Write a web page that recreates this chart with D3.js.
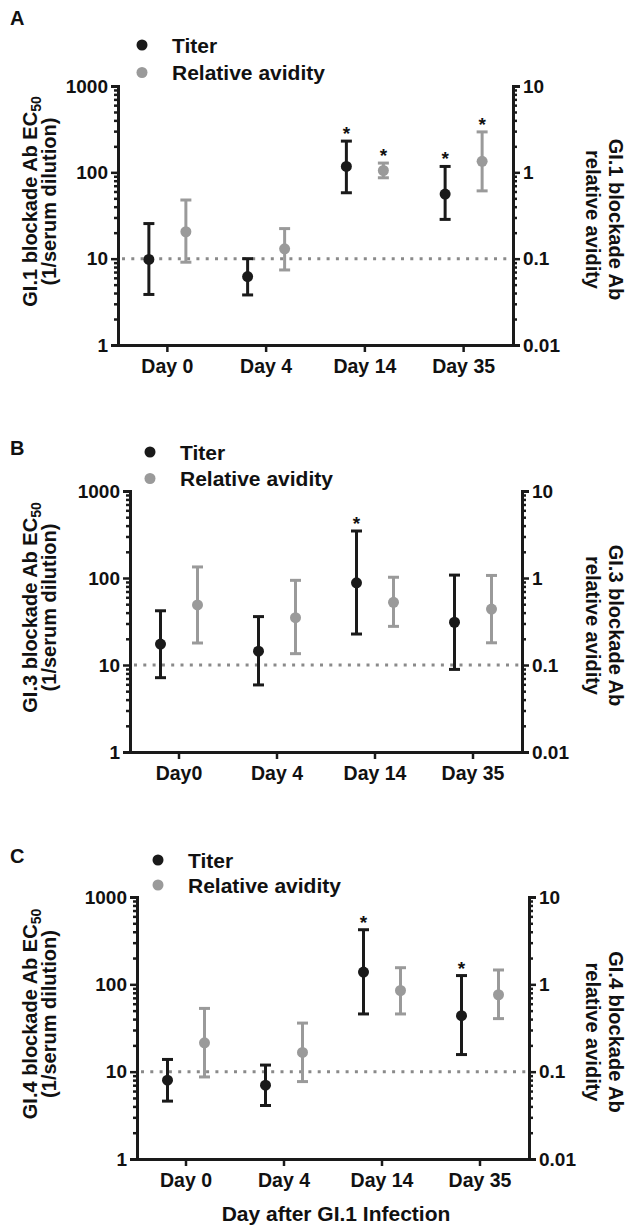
<!DOCTYPE html>
<html>
<head>
<meta charset="utf-8">
<script src="https://cdn.jsdelivr.net/npm/d3@7"></script>
<style>
  body { margin: 0; background: #fff; }
  svg text { font-family: "Liberation Sans", Arial, sans-serif; font-weight: bold; fill: #111; }
</style>
</head>
<body>
<svg id="chart" width="631" height="1227"></svg>
<script>
// categories
const daysA = ['Day 0', 'Day 4', 'Day 14', 'Day 35'];
const daysB = ['Day0', 'Day 4', 'Day 14', 'Day 35'];
const daysC = ['Day 0', 'Day 4', 'Day 14', 'Day 35'];

// panel A (GI.1)
const titerA = [9.8, 6.2, 117, 56];
const titerALow = [3.85, 3.8, 58, 28.5];
const titerAHigh = [25.5, 10, 230, 117];
const avidityA = [0.205, 0.13, 1.05, 1.34];
const avidityALow = [0.091, 0.074, 0.865, 0.61];
const avidityAHigh = [0.478, 0.223, 1.28, 2.94];
const titerStarA = [0, 0, 1, 1];
const avidityStarA = [0, 0, 1, 1];

// panel B (GI.3)
const titerB = [17.4, 14.4, 88, 31];
const titerBLow = [7.15, 5.9, 22.7, 8.9];
const titerBHigh = [42, 36, 347, 108];
const avidityB = [0.49, 0.35, 0.525, 0.44];
const avidityBLow = [0.179, 0.135, 0.278, 0.18];
const avidityBHigh = [1.34, 0.94, 1.02, 1.07];
const titerStarB = [0, 0, 1, 0];
const avidityStarB = [0, 0, 0, 0];

// panel C (GI.4)
const titerC = [8.0, 7.0, 138, 43.8];
const titerCLow = [4.6, 4.1, 45.8, 15.7];
const titerCHigh = [13.8, 11.9, 422, 126];
const avidityC = [0.214, 0.166, 0.85, 0.76];
const avidityCLow = [0.087, 0.077, 0.458, 0.405];
const avidityCHigh = [0.53, 0.36, 1.55, 1.46];
const titerStarC = [0, 0, 1, 1];
const avidityStarC = [0, 0, 0, 0];

// tick labels
const leftTicks = [1, 10, 100, 1000];
const leftTickLabels = ['1', '10', '100', '1000'];
const rightTicks = [0.01, 0.1, 1, 10];
const rightTickLabels = ['0.01', '0.1', '1', '10'];
const dottedLevel = 10;

const darkColor = '#1a1a1a';
const greyColor = '#9a9a9a';

const svg = d3.select('#chart');

function minorTicks(lo, hi) {
  const out = [];
  for (let d = lo; d < hi; d *= 10) {
    for (let m = 2; m <= 9; m++) out.push(d * m);
  }
  return out;
}

function drawPanel(p) {
  const g = svg.append('g');
  const x = d3.scaleBand().domain(p.days).range([p.left, p.right]);
  const yL = d3.scaleLog().domain([1, 1000]).range([p.bottom, p.top]);
  const yR = d3.scaleLog().domain([0.01, 10]).range([p.bottom, p.top]);

  // panel letter
  g.append('text').attr('x', 10).attr('y', p.letterY).style('font-size', '20px').text(p.letter);

  // legend
  const leg = g.append('g');
  [[darkColor, 'Titer', 0], [greyColor, 'Relative avidity', 1]].forEach(function (d) {
    const yy = p.legendY + d[2] * p.legendGap;
    leg.append('circle').attr('cx', p.legendX).attr('cy', yy).attr('r', 5.5).attr('fill', d[0]);
    leg.append('text').attr('x', p.legendX + 30).attr('y', yy + 7.5)
      .style('font-size', '21px').text(d[1]);
  });

  // dotted reference line
  g.append('line')
    .attr('x1', p.left + 4).attr('x2', p.right)
    .attr('y1', yL(dottedLevel)).attr('y2', yL(dottedLevel))
    .attr('stroke', '#8a8a8a').attr('stroke-width', 3)
    .attr('stroke-dasharray', '3 6.3');

  // left axis
  const minorL = g.append('g').attr('transform', 'translate(' + p.left + ',0)')
    .call(d3.axisLeft(yL).tickValues(minorTicks(1, 1000)).tickSize(4).tickFormat(''));
  const majorL = g.append('g').attr('transform', 'translate(' + p.left + ',0)')
    .call(d3.axisLeft(yL).tickValues(leftTicks).tickSize(7).tickPadding(3)
      .tickFormat(function (d, i) { return leftTickLabels[i]; }));

  // right axis
  const minorR = g.append('g').attr('transform', 'translate(' + p.right + ',0)')
    .call(d3.axisRight(yR).tickValues(minorTicks(0.01, 10)).tickSize(4).tickFormat(''));
  const majorR = g.append('g').attr('transform', 'translate(' + p.right + ',0)')
    .call(d3.axisRight(yR).tickValues(rightTicks).tickSize(7).tickPadding(3)
      .tickFormat(function (d, i) { return rightTickLabels[i]; }));

  // bottom axis
  const bottomAx = g.append('g').attr('transform', 'translate(0,' + p.bottom + ')')
    .call(d3.axisBottom(x).tickSize(7).tickPadding(7).tickSizeOuter(0));

  [minorL, majorL, minorR, majorR, bottomAx].forEach(function (a) {
    a.selectAll('.domain').attr('stroke', darkColor).attr('stroke-width', 3);
    a.selectAll('.tick line').attr('stroke', darkColor).attr('stroke-width', 2.5);
    a.selectAll('text').attr('fill', darkColor).style('font-size', '19px')
      .style('font-family', '"Liberation Sans", Arial, sans-serif').style('font-weight', 'bold');
  });
  minorL.select('.domain').remove();
  minorR.select('.domain').remove();
  bottomAx.selectAll('text').style('font-size', '19.5px');

  // left axis title
  const lt = g.append('text')
    .attr('transform', 'translate(37,' + ((p.top + p.bottom) / 2 - 14) + ') rotate(-90)')
    .attr('text-anchor', 'middle').style('font-size', '20px');
  lt.append('tspan').attr('x', 0).text(p.leftTitle + ' EC');
  lt.append('tspan').attr('dy', '0.3em').style('font-size', '14px').text('50');
  lt.append('tspan').attr('x', 0).attr('dy', '19px').attr('dx', 0).text('(1/serum dilution)')
    .attr('y', 0);

  // right axis title
  const rt = g.append('text')
    .attr('transform', 'translate(609,' + ((p.top + p.bottom) / 2 + 4) + ') rotate(90)')
    .attr('text-anchor', 'middle').style('font-size', '20px');
  rt.append('tspan').attr('x', 0).text(p.rightTitle);
  rt.append('tspan').attr('x', 0).attr('dy', '23px').text('relative avidity');

  // series
  const series = [
    { vals: p.titer, lo: p.titerLow, hi: p.titerHigh, star: p.titerStar, y: yL, off: -18.5, color: darkColor },
    { vals: p.avidity, lo: p.avidityLow, hi: p.avidityHigh, star: p.avidityStar, y: yR, off: 18.5, color: greyColor }
  ];
  series.forEach(function (s) {
    const rows = p.days.map(function (d, i) {
      return { day: d, v: s.vals[i], lo: s.lo[i], hi: s.hi[i], star: s.star[i] };
    });
    const grp = g.append('g').selectAll('g').data(rows).enter().append('g')
      .attr('transform', function (d) { return 'translate(' + (x(d.day) + x.bandwidth() / 2 + s.off) + ',0)'; });
    grp.append('line').attr('x1', 0).attr('x2', 0)
      .attr('y1', function (d) { return s.y(d.lo); }).attr('y2', function (d) { return s.y(d.hi); })
      .attr('stroke', s.color).attr('stroke-width', 3);
    grp.append('line').attr('x1', -5.5).attr('x2', 5.5)
      .attr('y1', function (d) { return s.y(d.hi); }).attr('y2', function (d) { return s.y(d.hi); })
      .attr('stroke', s.color).attr('stroke-width', 3);
    grp.append('line').attr('x1', -5.5).attr('x2', 5.5)
      .attr('y1', function (d) { return s.y(d.lo); }).attr('y2', function (d) { return s.y(d.lo); })
      .attr('stroke', s.color).attr('stroke-width', 3);
    grp.append('circle').attr('cy', function (d) { return s.y(d.v); }).attr('r', 5.5).attr('fill', s.color);
    grp.filter(function (d) { return d.star; }).append('text')
      .attr('y', function (d) { return s.y(d.hi) - 1; })
      .attr('text-anchor', 'middle').style('font-size', '19px').text('*');
  });
}

const panels = [
  { letter: 'A', letterY: 25, days: daysA, left: 118, right: 513, top: 86, bottom: 345,
    legendX: 142, legendY: 45, legendGap: 27.5,
    leftTitle: 'GI.1 blockade Ab', rightTitle: 'GI.1 blockade Ab',
    titer: titerA, titerLow: titerALow, titerHigh: titerAHigh, titerStar: titerStarA,
    avidity: avidityA, avidityLow: avidityALow, avidityHigh: avidityAHigh, avidityStar: avidityStarA },
  { letter: 'B', letterY: 455, days: daysB, left: 130, right: 522, top: 491, bottom: 752,
    legendX: 150, legendY: 452, legendGap: 26.5,
    leftTitle: 'GI.3 blockade Ab', rightTitle: 'GI.3 blockade Ab',
    titer: titerB, titerLow: titerBLow, titerHigh: titerBHigh, titerStar: titerStarB,
    avidity: avidityB, avidityLow: avidityBLow, avidityHigh: avidityBHigh, avidityStar: avidityStarB },
  { letter: 'C', letterY: 863, days: daysC, left: 137, right: 529, top: 897, bottom: 1159,
    legendX: 158, legendY: 860, legendGap: 25,
    leftTitle: 'GI.4 blockade Ab', rightTitle: 'GI.4 blockade Ab',
    titer: titerC, titerLow: titerCLow, titerHigh: titerCHigh, titerStar: titerStarC,
    avidity: avidityC, avidityLow: avidityCLow, avidityHigh: avidityCHigh, avidityStar: avidityStarC }
];

panels.forEach(drawPanel);

// x axis title under panel C
svg.append('text')
  .attr('x', (panels[2].left + panels[2].right) / 2 + 3).attr('y', 1221)
  .attr('text-anchor', 'middle').style('font-size', '21px')
  .text('Day after GI.1 Infection');
</script>
</body>
</html>
